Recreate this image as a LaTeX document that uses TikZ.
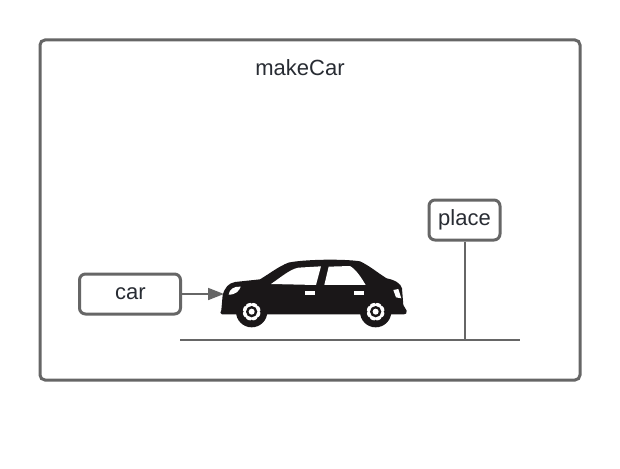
\documentclass[tikz,border=0pt]{standalone}
\usepackage{fontspec}
\setmainfont{Liberation Sans}
\usetikzlibrary{arrows.meta}
\definecolor{edgegrey}{HTML}{666666}
\definecolor{inkdark}{HTML}{282C33}
\definecolor{carblack}{HTML}{1A1718}
\tikzset{
  x=1pt,y=-1pt,
  framebox/.style={draw=edgegrey,line width=3pt,rounded corners=5pt,fill=white},
  labelbox/.style={draw=edgegrey,line width=3pt,rounded corners=6pt,fill=white,text=inkdark,font=\fontsize{22}{24}\selectfont,inner sep=0pt,align=center},
  wire/.style={draw=edgegrey,line width=1.7pt},
  titletext/.style={text=inkdark,font=\fontsize{22}{24}\selectfont,inner sep=0pt}
}
\begin{document}
\begin{tikzpicture}
\useasboundingbox (0,0) rectangle (620,468);
\fill[white] (0,0) rectangle (620,468);
\draw[framebox] (40,40) rectangle (580,380);
\node[titletext] (title) at (300,68) {makeCar};
\node[labelbox,minimum width=101pt,minimum height=40pt] (car) at (130,294) {\hspace{1pt}\raisebox{1.2pt}{car}};
\node[labelbox,minimum width=71pt,minimum height=40pt] (place) at (464.5,220) {\raisebox{3pt}{place}};
\coordinate (groundL) at (180,340);
\coordinate (groundR) at (520,340);
\coordinate (groundM) at (465,340);
\coordinate (carnose) at (224,294);
\draw[wire] (groundL) -- (groundR);
\draw[wire] (place.south -| groundM) -- (groundM);
\draw[wire,-{Triangle[length=16pt,width=12pt]},fill=edgegrey] (car.east |- carnose) -- (carnose);
\begin{scope}[shift={(210,250)},x=0.3333pt,y=-0.3333pt]
  \fill[carblack] (36,193) .. controls (30,193) and (30,186) .. (34,180) -- (38,135)
    .. controls (45,112) and (55,100) .. (75,96)
    -- (150,88) .. controls (180,70) and (205,50) .. (235,38)
    .. controls (280,28) and (400,26) .. (450,34) .. controls (480,48) and (505,70) .. (530,85)
    .. controls (555,90) and (572,100) .. (576,115) -- (580,165) -- (590,182)
    .. controls (591,190) and (588,193) .. (582,193) -- cycle;
  \fill[carblack] (125,185) circle (47);
  \fill[carblack] (497,185) circle (47);
  \foreach \cx in {125,497}{
    \fill[white] (\cx,185) circle (27);
    \fill[carblack] (\cx,185) circle (17);
    \fill[white] (\cx,185) circle (9);
    \foreach \a in {0,45,...,315}
      \fill[carblack] (\cx,185) ++(\a:28) circle (4);
  }
  % windows
  \fill[white] (183,102) .. controls (215,80) and (240,58) .. (265,53) -- (333,49) -- (318,105) -- cycle;
  \fill[white] (343,105) -- (356,50) -- (420,48) .. controls (440,60) and (455,85) .. (467,105) -- cycle;
  % door handles
  \fill[white] (284,123) rectangle (316,135);
  \fill[white] (432,123) rectangle (463,135);
  % lamps
  \fill[white] (56,134) .. controls (58,118) and (72,108) .. (92,110) .. controls (88,122) and (78,134) .. (56,134) -- cycle;
  \fill[white] (550,120) -- (565,117) -- (574,145) -- (558,142) -- cycle;
\end{scope}
\end{tikzpicture}
\end{document}
